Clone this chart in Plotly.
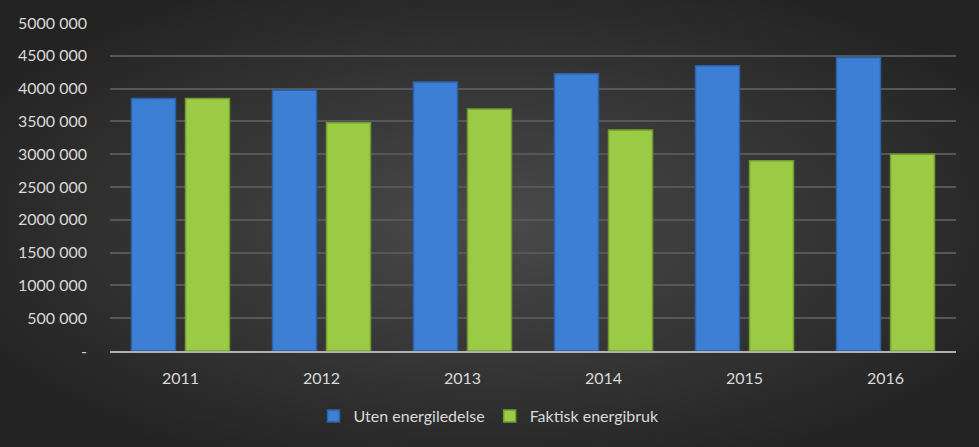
import plotly.graph_objects as go
import base64

years = ["2011", "2012", "2013", "2014", "2015", "2016"]
uten = [3850000, 3975000, 4100000, 4225000, 4350000, 4475000]
faktisk = [3850000, 3480000, 3690000, 3370000, 2900000, 3000000]
tick_vals = [0, 500000, 1000000, 1500000, 2000000, 2500000, 3000000, 3500000, 4000000, 4500000, 5000000]
tick_text = ["-", "500 000", "1000 000", "1500 000", "2000 000", "2500 000", "3000 000",
             "3500 000", "4000 000", "4500 000", "5000 000"]

W, H = 979, 447
L, R, T, B = 110, 23, 23, 96
pw, ph = W - L - R, H - T - B

svg = f'''<svg xmlns="http://www.w3.org/2000/svg" width="{W}" height="{H}" viewBox="0 0 {W} {H}" preserveAspectRatio="none">
<defs><radialGradient id="g" cx="50%" cy="50%" r="60%" gradientUnits="objectBoundingBox">
<stop offset="0%" stop-color="#4a4a4a"/><stop offset="100%" stop-color="#232323"/></radialGradient></defs>
<rect width="{W}" height="{H}" fill="url(#g)"/></svg>'''
src = "data:image/svg+xml;base64," + base64.b64encode(svg.encode()).decode()

font = "Lato, 'Open Sans', sans-serif"
txt = "#d9d9d9"

fig = go.Figure()
fig.add_trace(go.Bar(x=years, y=uten, name="Uten energiledelse",
                     marker=dict(color="#3d7fd4", line=dict(color="#2b62ad", width=1.5))))
fig.add_trace(go.Bar(x=years, y=faktisk, name="Faktisk energibruk",
                     marker=dict(color="#9bcb45", line=dict(color="#729d2e", width=1.5))))

fig.update_layout(
    width=W, height=H,
    margin=dict(l=L, r=R, t=T, b=B),
    paper_bgcolor="#2f2f2f",
    plot_bgcolor="rgba(0,0,0,0)",
    barmode="group", bargap=0.234, bargroupgap=0.185,
    font=dict(family=font, size=16, color=txt),
    images=[dict(source=src, xref="paper", yref="paper",
                 x=-L / pw, y=1 + T / ph, sizex=W / pw, sizey=H / ph,
                 xanchor="left", yanchor="top", sizing="stretch", layer="below")],
    legend=dict(orientation="h", x=0.448, xanchor="center", y=-65 / ph, yanchor="middle",
                itemwidth=30, font=dict(size=16, color=txt), bgcolor="rgba(0,0,0,0)"),
    xaxis=dict(showgrid=False, showline=True, linecolor="#b0b0b0", linewidth=2,
               ticks="", tickfont=dict(size=16, color=txt), ticklabelstandoff=12),
    yaxis=dict(range=[0, 5000000], tickvals=tick_vals, ticktext=tick_text,
               showgrid=True, gridcolor="#575757", gridwidth=1.5, zeroline=False,
               showline=False, ticks="", tickfont=dict(size=16, color=txt),
               ticklabelstandoff=22),
)

fig.write_html("out.html")
